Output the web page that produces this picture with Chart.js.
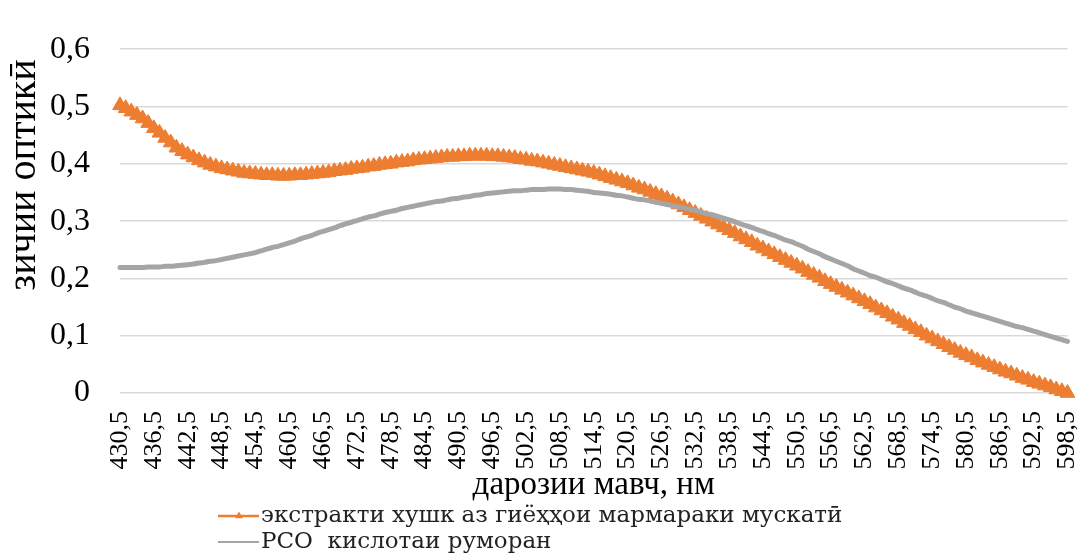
<!DOCTYPE html>
<html>
<head>
<meta charset="utf-8">
<script src="https://cdn.jsdelivr.net/npm/chart.js@4.4.1/dist/chart.umd.min.js"></script>
<style>
  html, body { margin: 0; padding: 0; background: #fff; }
  #wrap { width: 1077px; height: 553px; }
</style>
</head>
<body>
<div id="wrap"><canvas id="chart" width="1077" height="553"></canvas></div>
<script>
// wavelength grid, 1 nm step
const firstWavelength = 430.5;
const pointCount = 169;
const labelEvery = 6;
const wavelengths = Array.from({ length: pointCount }, (_, i) => firstWavelength + i);
const categories = wavelengths.map(w => w.toFixed(1).replace('.', ','));

const extractLabel = 'экстракти хушк аз гиёҳҳои мармараки мускатӣ';
const rsoLabel = 'РСО  кислотаи руморан';
const xTitle = 'дарозии мавч, нм';
const yTitle = 'зичии оптикӣ';

// optical density
const extractValues = [
  0.502, 0.497, 0.491, 0.485, 0.479, 0.471, 0.462, 0.454, 0.445, 0.437, 0.428, 0.422,
  0.416, 0.411, 0.406, 0.402, 0.398, 0.395, 0.392, 0.390, 0.388, 0.386, 0.384, 0.383,
  0.382, 0.381, 0.380, 0.380, 0.379, 0.379, 0.379, 0.380, 0.380, 0.381, 0.382, 0.383,
  0.384, 0.385, 0.387, 0.388, 0.389, 0.391, 0.392, 0.393, 0.395, 0.396, 0.398, 0.399,
  0.400, 0.402, 0.403, 0.404, 0.406, 0.407, 0.408, 0.409, 0.410, 0.411, 0.412, 0.412,
  0.413, 0.413, 0.414, 0.414, 0.414, 0.414, 0.413, 0.413, 0.412, 0.411, 0.410, 0.408,
  0.407, 0.405, 0.404, 0.402, 0.400, 0.398, 0.396, 0.394, 0.392, 0.390, 0.388, 0.386,
  0.384, 0.381, 0.378, 0.375, 0.372, 0.369, 0.366, 0.362, 0.358, 0.355, 0.351, 0.347,
  0.343, 0.339, 0.334, 0.329, 0.324, 0.319, 0.314, 0.309, 0.304, 0.299, 0.294, 0.289,
  0.284, 0.279, 0.273, 0.268, 0.263, 0.257, 0.252, 0.247, 0.242, 0.237, 0.232, 0.227,
  0.222, 0.217, 0.211, 0.206, 0.201, 0.195, 0.190, 0.185, 0.180, 0.175, 0.170, 0.165,
  0.160, 0.155, 0.149, 0.144, 0.139, 0.133, 0.128, 0.122, 0.117, 0.111, 0.106, 0.100,
  0.095, 0.090, 0.085, 0.080, 0.075, 0.070, 0.066, 0.062, 0.057, 0.053, 0.049, 0.045,
  0.041, 0.037, 0.034, 0.030, 0.026, 0.023, 0.019, 0.016, 0.013, 0.010, 0.006, 0.003,
  0.000
];

const rsoValues = [
  0.219, 0.219, 0.219, 0.219, 0.219, 0.220, 0.220, 0.220, 0.221, 0.221, 0.222, 0.223,
  0.224, 0.225, 0.227, 0.228, 0.230, 0.231, 0.233, 0.235, 0.237, 0.239, 0.241, 0.243,
  0.245, 0.248, 0.251, 0.254, 0.256, 0.259, 0.262, 0.265, 0.269, 0.272, 0.275, 0.279,
  0.282, 0.285, 0.288, 0.292, 0.295, 0.298, 0.301, 0.304, 0.307, 0.309, 0.312, 0.315,
  0.317, 0.319, 0.322, 0.324, 0.326, 0.328, 0.330, 0.332, 0.334, 0.335, 0.337, 0.339,
  0.340, 0.342, 0.343, 0.345, 0.346, 0.348, 0.349, 0.350, 0.351, 0.352, 0.353, 0.353,
  0.354, 0.355, 0.355, 0.355, 0.356, 0.356, 0.356, 0.355, 0.355, 0.354, 0.353, 0.352,
  0.350, 0.349, 0.348, 0.347, 0.345, 0.344, 0.342, 0.340, 0.338, 0.337, 0.335, 0.333,
  0.331, 0.329, 0.327, 0.325, 0.323, 0.321, 0.319, 0.316, 0.313, 0.311, 0.308, 0.305,
  0.302, 0.299, 0.295, 0.292, 0.289, 0.285, 0.282, 0.278, 0.275, 0.271, 0.267, 0.264,
  0.260, 0.256, 0.251, 0.247, 0.243, 0.238, 0.234, 0.230, 0.226, 0.222, 0.217, 0.213,
  0.209, 0.205, 0.202, 0.198, 0.194, 0.191, 0.187, 0.183, 0.180, 0.176, 0.172, 0.169,
  0.165, 0.161, 0.158, 0.154, 0.150, 0.147, 0.143, 0.140, 0.137, 0.134, 0.131, 0.128,
  0.125, 0.122, 0.119, 0.116, 0.114, 0.111, 0.108, 0.105, 0.102, 0.099, 0.096, 0.093,
  0.090
];

const yMin = 0;
const yMax = 0.6;
const yStep = 0.1;

const ORANGE = '#ED7D31';
const GRAY = '#A5A5A5';
const SERIF = '"Liberation Serif", "DejaVu Serif", "Times New Roman", serif';

// y title placed off-centre like the original, plus a two-row legend
const extras = {
  id: 'extras',
  afterDraw(chart) {
    const ctx = chart.ctx;
    ctx.save();
    ctx.fillStyle = '#000';
    ctx.font = '40px ' + SERIF;
    ctx.translate(35, 175);
    ctx.rotate(-Math.PI / 2);
    ctx.textAlign = 'center';
    ctx.textBaseline = 'alphabetic';
    ctx.fillText(yTitle, 0, 0);
    ctx.restore();

    ctx.save();
    chart.data.datasets.forEach((ds, i) => {
      const y = 516 + i * 26;
      ctx.strokeStyle = ds.borderColor;
      ctx.lineWidth = i === 0 ? 2.5 : 2;
      ctx.beginPath();
      ctx.moveTo(218, y);
      ctx.lineTo(259, y);
      ctx.stroke();
      if (ds.pointRadius > 0) {
        const r = 4.5, cx = 239;
        ctx.fillStyle = ds.borderColor;
        ctx.beginPath();
        ctx.moveTo(cx, y - r);
        ctx.lineTo(cx + r * 0.87, y + r / 2);
        ctx.lineTo(cx - r * 0.87, y + r / 2);
        ctx.closePath();
        ctx.fill();
      }
      ctx.fillStyle = '#222';
      ctx.font = '23px "DejaVu Serif", serif';
      ctx.textAlign = 'left';
      ctx.textBaseline = 'middle';
      ctx.fillText(ds.label, 261, y);
    });
    ctx.restore();
  }
};

Chart.defaults.color = '#000';
Chart.defaults.font.family = SERIF;

new Chart(document.getElementById('chart').getContext('2d'), {
  type: 'line',
  data: {
    labels: categories,
    datasets: [{
      label: extractLabel,
      data: extractValues,
      borderColor: ORANGE,
      backgroundColor: ORANGE,
      borderWidth: 2,
      pointStyle: 'triangle',
      pointRadius: 8.5,
      pointBackgroundColor: ORANGE,
      pointBorderColor: ORANGE,
      pointBorderWidth: 1,
      cubicInterpolationMode: 'monotone',
      clip: false,
      order: 1
    }, {
      label: rsoLabel,
      data: rsoValues,
      borderColor: GRAY,
      backgroundColor: GRAY,
      borderWidth: 5,
      borderCapStyle: 'round',
      pointRadius: 0,
      cubicInterpolationMode: 'monotone',
      clip: false,
      order: 0
    }]
  },
  options: {
    responsive: false,
    devicePixelRatio: 1,
    animation: false,
    layout: { padding: { top: 9, right: 8, bottom: 48, left: 0 } },
    plugins: {
      legend: { display: false },
      tooltip: { enabled: false }
    },
    scales: {
      x: {
        type: 'category',
        grid: { display: false, drawTicks: false },
        border: { display: false },
        ticks: {
          autoSkip: false,
          minRotation: 90,
          maxRotation: 90,
          padding: 18,
          font: { size: 26 },
          callback(value, index) {
            return index % labelEvery === 0 ? this.getLabelForValue(value) : null;
          }
        },
        title: {
          display: true,
          text: xTitle,
          font: { size: 33 },
          padding: { top: 0, bottom: 0 }
        },
        afterFit(scale) {
          scale.height = 112;
          scale.paddingLeft = 0;
          scale.paddingRight = 0;
        }
      },
      y: {
        min: yMin,
        max: yMax,
        grid: { color: '#d9d9d9', lineWidth: 1.5, drawTicks: false },
        border: { display: false },
        ticks: {
          stepSize: yStep,
          padding: 30,
          font: { size: 32 },
          callback(value) {
            return value === 0 ? '0' : value.toFixed(1).replace('.', ',');
          }
        },
        afterFit(scale) { scale.width = 120; }
      }
    }
  },
  plugins: [extras]
});
</script>
</body>
</html>
